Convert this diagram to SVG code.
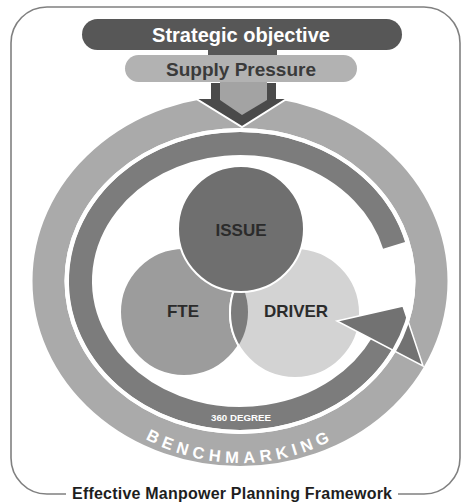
<svg xmlns="http://www.w3.org/2000/svg" width="466" height="504" viewBox="0 0 466 504">
<defs>
<style>
.frame{fill:none;stroke:#808080;stroke-width:1.6}
.b{font-family:"Liberation Sans",Arial,sans-serif;font-weight:bold}
.lbl{font-size:17px;fill:#2b2b2b;text-anchor:middle}
.circ{stroke:#ffffff;stroke-width:2}
</style>
<path id="benchPath" d="M50,281 A190,182 0 0 0 430,281"/>
<clipPath id="fteClip"><circle cx="184" cy="312" r="64"/></clipPath>
</defs>
<rect width="466" height="504" fill="#ffffff"/>
<g id="frame">
<path class="frame" d="M66,494 H47 A36,36 0 0 1 11,458 V43 A36,36 0 0 1 47,7 H424 A36,36 0 0 1 460,43 V458 A36,36 0 0 1 424,494 H398"/>
</g>
<g id="title">
<text class="b" x="232" y="499" font-size="16" fill="#1e1e1e" text-anchor="middle" textLength="320" lengthAdjust="spacing">Effective Manpower Planning Framework</text>
</g>
<g id="benchmarking">
<ellipse cx="240" cy="281" rx="191.5" ry="169" fill="none" stroke="#aaaaaa" stroke-width="32"/>
<text class="b" font-size="16.5" fill="#ffffff" letter-spacing="5"><textPath href="#benchPath" startOffset="50%" text-anchor="middle">BENCHMARKING</textPath></text>
</g>
<g id="fte">
<circle class="circ" cx="184" cy="312" r="64" fill="#9c9c9c"/>
<text class="b lbl" x="183" y="317">FTE</text>
</g>
<g id="driver">
<circle class="circ" cx="295" cy="313" r="65" fill="#d3d3d3"/>
<circle cx="295" cy="313" r="65" fill="#7c7c7c" clip-path="url(#fteClip)" stroke="#ffffff" stroke-width="2"/>
<text class="b lbl" x="296" y="317">DRIVER</text>
</g>
<g id="issue">
<circle class="circ" cx="241" cy="229" r="63" fill="#6f6f6f"/>
<text class="b lbl" x="241" y="236" fill="#3a3a3a">ISSUE</text>
</g>
<g id="cycle">
<path d="M394.07,245.41 A159.5,137.5 0 1 0 382.1,343.4" fill="none" stroke="#7c7c7c" stroke-width="23"/>
<polygon points="337,321 403,306 423,366" fill="#727272" stroke="#ffffff" stroke-width="1.5" stroke-linejoin="miter"/>
<ellipse cx="240" cy="281" rx="173.5" ry="151" fill="none" stroke="#ffffff" stroke-width="4"/>
<text class="b" x="241" y="421" font-size="8.5" fill="#ffffff" text-anchor="middle" textLength="60" lengthAdjust="spacingAndGlyphs">360 DEGREE</text>
</g>
<g id="strategic">
<rect x="82" y="19" width="320" height="31" rx="15.5" fill="#575757"/>
<text class="b" x="241" y="42" font-size="20" fill="#ffffff" text-anchor="middle">Strategic objective</text>
</g>
<g id="connectors">
<rect x="208" y="49" width="69" height="7" fill="#575757"/>
<polygon points="210,82 277,82 277,98 288,98 242,127 195,98 210,98" fill="#4a4a4a" stroke="#ffffff" stroke-width="2" stroke-linejoin="miter"/>
<polygon points="220,82 267,82 267,100 242,115 220,100" fill="#a3a3a3"/>
</g>
<g id="supply">
<rect x="125" y="55" width="232" height="27" rx="13.5" fill="#b2b2b2"/>
<text class="b" x="241" y="76" font-size="19" fill="#3a3a3a" text-anchor="middle">Supply Pressure</text>
</g>
</svg>
